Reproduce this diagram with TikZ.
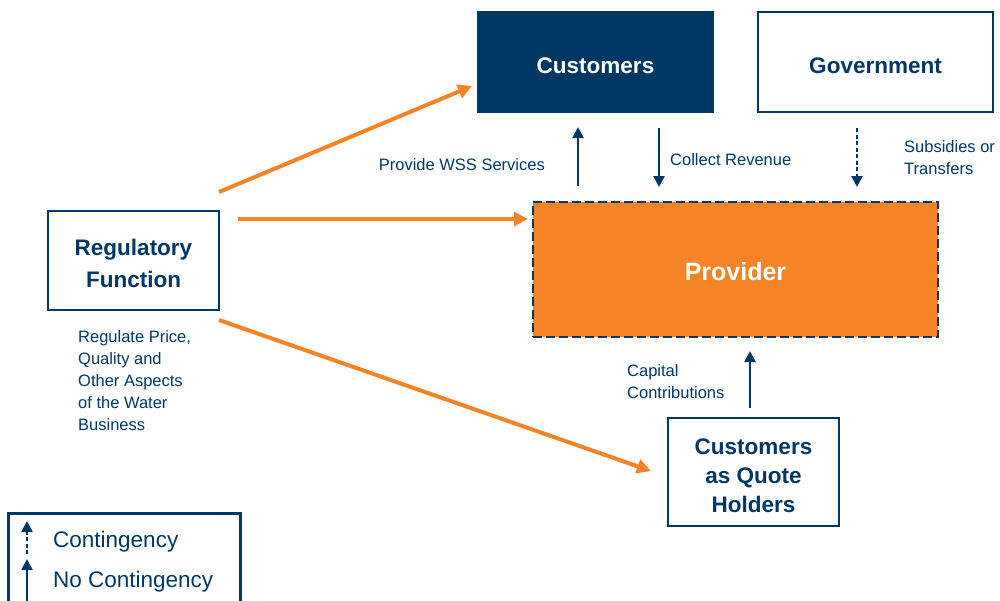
\documentclass[tikz,border=0pt]{standalone}
\usepackage{fontspec}
\setmainfont{Liberation Sans}
\usetikzlibrary{arrows.meta}
\definecolor{navy}{HTML}{003764}
\definecolor{orng}{HTML}{F58426}
\newcommand{\tstrut}{\rule{0pt}{22.5pt}}
\begin{document}
\begin{tikzpicture}[x=1pt,y=-1pt,
  box/.style={draw=navy,line width=1.5pt,inner sep=0pt,text=navy,font=\fontsize{22.5}{32}\selectfont\bfseries,align=center},
  lbl/.style={inner sep=0pt,text=navy,font=\fontsize{16.5}{22}\selectfont,align=left},
  oarr/.style={draw=orng,line width=4pt,-{Triangle[length=14pt,width=14pt]}},
  narr/.style={draw=navy,line width=2.5pt,-{Triangle[length=11pt,width=11pt]}},
  carr/.style={narr,dash pattern=on 4pt off 2.5pt}]
\useasboundingbox (0,0) rectangle (1000,600);
% boxes
\node[box,fill=navy,text=white,minimum width=235pt,minimum height=100pt] (cust) at (595.5,62) {\tstrut Customers};
\node[box,fill=white,minimum width=235pt,minimum height=100pt] (gov) at (875.5,62) {\tstrut Government};
\node[box,fill=orng,text=white,draw=navy,line width=2.5pt,dash pattern=on 9pt off 4pt,minimum width=405pt,minimum height=135pt,font=\fontsize{25}{32}\selectfont\bfseries] (prov) at (735.5,269.5) {\tstrut Provider};
\node[box,minimum width=171pt,minimum height=99pt] (reg) at (133.5,260.5) {\tstrut Regulatory\\Function};
\node[box,minimum width=171pt,minimum height=108pt,font=\fontsize{22.5}{29}\selectfont\bfseries] (cqh) at (753.5,472) {\tstrut Customers\\as Quote\\Holders};
% legend box (open at the bottom edge)
\draw[navy,line width=3pt] (8,602) -- (8,513.5) -- (240,513.5) -- (240,602);
\coordinate (lg1a) at (27,554); \coordinate (lg1b) at (27,521);
\coordinate (lg2a) at (27,601); \coordinate (lg2b) at (27,559);
\draw[carr] (lg1a) -- (lg1b);
\draw[narr] (lg2a) -- (lg2b);
\node[lbl,anchor=west,font=\fontsize{22.5}{28}\selectfont] (lgc) at (53,542) {Contingency};
\node[lbl,anchor=west,font=\fontsize{22.5}{28}\selectfont] (lgn) at (53,582) {No Contingency};
% orange connectors
\coordinate (o1a) at (219,192); \coordinate (o1b) at (472,86);
\coordinate (o2a) at (238,219); \coordinate (o2b) at (528,219);
\coordinate (o3a) at (219,320); \coordinate (o3b) at (651,471);
\draw[oarr] (o1a) -- (o1b);
\draw[oarr] (o2a) -- (o2b);
\draw[oarr] (o3a) -- (o3b);
% navy connectors
\coordinate (w1) at (578,186); \coordinate (w2) at (578,127);
\coordinate (c1) at (659,128); \coordinate (c2) at (659,187);
\coordinate (s1) at (857,128); \coordinate (s2) at (857,187);
\coordinate (k1) at (750,408); \coordinate (k2) at (750,351);
\draw[narr] (w1) -- (w2);
\draw[narr] (c1) -- (c2);
\draw[carr] (s1) -- (s2);
\draw[narr] (k1) -- (k2);
% labels
\node[lbl,anchor=east] (lw) at (545,165) {Provide WSS Services};
\node[lbl,anchor=west] (lc) at (670,160) {Collect Revenue};
\node[lbl,anchor=north west] (ls) at (904,140) {Subsidies or\\Transfers};
\node[lbl,anchor=north west] (lk) at (627,364) {Capital\\Contributions};
\node[lbl,anchor=north west] (lr) at (78,330) {Regulate Price,\\Quality and\\Other Aspects\\of the Water\\Business};
\end{tikzpicture}
\end{document}
